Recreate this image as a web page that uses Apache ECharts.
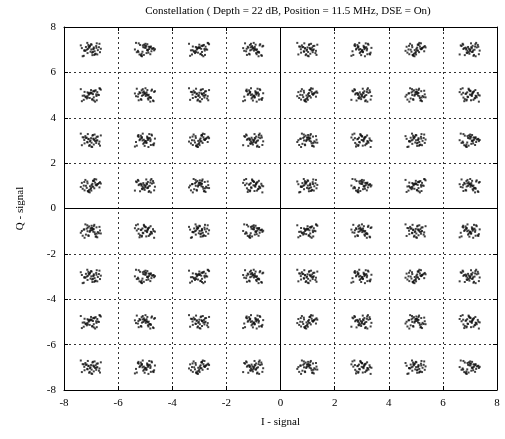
<!DOCTYPE html>
<html><head><meta charset="utf-8">
<script src="https://cdn.jsdelivr.net/npm/echarts@6/dist/echarts.min.js"></script>
<style>html,body{margin:0;padding:0;background:#fff}#c{width:505px;height:439px}</style>
</head><body><div id="c"></div>
<script>
// 64-QAM symbol levels (I and Q)
var levelsI = [-7, -5, -3, -1, 1, 3, 5, 7];
var levelsQ = [-7, -5, -3, -1, 1, 3, 5, 7];
// tick labels
var ticks = [-8, -6, -4, -2, 0, 2, 4, 6, 8];
// noise offsets read from a typical cluster (units)
var noiseI = [-0.24,0.05,0.20,-0.09,0.33,-0.16,0.02,0.13,-0.31,0.10,-0.04,0.23,-0.12,0.29,0.00,-0.21,0.15,-0.07,0.08,-0.27,0.19,-0.02,0.36,-0.14,0.04,-0.10,0.25,-0.34,0.12,-0.19,0.07,0.31,-0.05,0.17,-0.25,0.01,0.21,-0.13,0.10,-0.38];
var noiseQ = [0.11,0.24,-0.05,-0.20,0.09,0.02,-0.27,0.16,-0.09,0.04,0.30,-0.13,0.21,-0.02,0.07,-0.23,0.12,-0.10,0.26,0.14,-0.18,-0.04,0.01,0.28,-0.15,0.10,0.19,-0.03,-0.24,0.08,0.13,-0.11,0.00,0.22,-0.07,-0.29,0.05,0.17,-0.21,0.03];

var pts = [];
var c = 0;
levelsQ.forEach(function (q) {
  levelsI.forEach(function (i) {
    var n = noiseI.length;
    for (var k = 0; k < n; k++) {
      var j = (k + 7 * c) % n;
      var m = (k + 3 * c + 11) % n;
      pts.push([i + noiseI[j], q + noiseQ[m]]);
    }
    c++;
  });
});

var font = 'Liberation Serif';
var axisCommon = {
  type: 'value', min: -8, max: 8, interval: 2,
  axisLine: { show: true, onZero: false, lineStyle: { color: '#000', width: 1 } },
  axisTick: { show: true, inside: true, length: 4, lineStyle: { color: '#000' } },
  splitLine: { show: true, lineStyle: { color: '#333', type: [2, 3], width: 1 } },
  axisLabel: { color: '#000', fontFamily: font, fontSize: 11 }
};
function ax(extra) { return Object.assign(JSON.parse(JSON.stringify(axisCommon)), extra); }

var chart = echarts.init(document.getElementById('c'), null, { renderer: 'canvas' });
chart.setOption({
  animation: false,
  backgroundColor: '#fff',
  title: {
    text: 'Constellation ( Depth = 22 dB, Position = 11.5 MHz, DSE = On)',
    left: 283, top: 1, textAlign: 'center',
    textStyle: { fontFamily: font, fontSize: 11, fontWeight: 'normal', color: '#000' }
  },
  grid: { left: 64, right: 8, top: 27, bottom: 49 },
  xAxis: [
    ax({ position: 'bottom', name: 'I - signal', nameLocation: 'middle', nameGap: 27,
      nameTextStyle: { fontFamily: font, fontSize: 11, color: '#000' },
      axisLabel: { color: '#000', fontFamily: font, fontSize: 11, margin: 8 } }),
    ax({ position: 'top', axisLabel: { show: false }, splitLine: { show: false } })
  ],
  yAxis: [
    ax({ position: 'left', name: 'Q - signal', nameLocation: 'middle', nameGap: 38,
      nameTextStyle: { fontFamily: font, fontSize: 11, color: '#000' },
      axisLabel: { color: '#000', fontFamily: font, fontSize: 11, margin: 8 } }),
    ax({ position: 'right', axisLabel: { show: false }, splitLine: { show: false } })
  ],
  series: [{
    type: 'scatter',
    data: pts,
    symbol: 'rect',
    symbolSize: [2, 2],
    itemStyle: { color: '#111' },
    silent: true,
    markLine: {
      silent: true, symbol: 'none', label: { show: false },
      lineStyle: { color: '#000', type: 'solid', width: 1 },
      data: [{ xAxis: 0 }, { yAxis: 0 }]
    }
  }]
});
</script></body></html>
